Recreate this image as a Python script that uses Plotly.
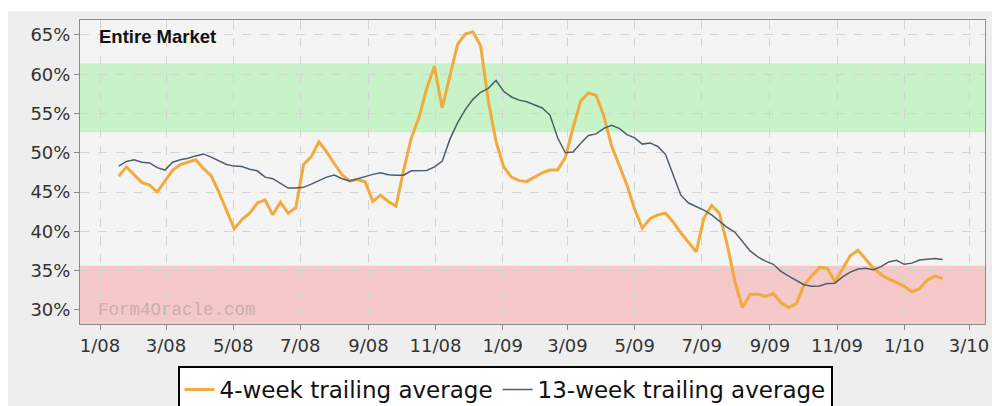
import pandas as pd
import plotly.graph_objects as go

# ---- data ----
START_DATE = "2008-01-18"
trail4 = [47.0, 48.2, 47.2, 46.2, 45.9, 45.0, 46.4, 47.8, 48.5, 48.8,
          49.1, 48.0, 47.1, 45.0, 42.7, 40.3, 41.5, 42.3, 43.6, 44.0,
          42.1, 43.7, 42.3, 43.0, 48.5, 49.5, 51.4, 50.1, 48.6, 47.2,
          46.4, 46.6, 46.3, 43.8, 44.6, 43.8, 43.2, 47.8, 51.9, 54.5,
          58.2, 61.0, 55.7, 59.9, 63.8, 65.1, 65.4, 63.6, 56.6, 51.4,
          48.2, 46.9, 46.45, 46.35, 46.9, 47.45, 47.8, 47.8, 49.4, 53.2,
          56.6, 57.6, 57.3, 54.7, 50.9, 48.3, 45.9, 42.8, 40.4, 41.6,
          42.1, 42.3, 41.2, 39.8, 38.6, 37.4, 41.7, 43.3, 42.3, 38.4,
          33.7, 30.3, 31.95, 32.0, 31.7, 32.1, 30.9, 30.3, 30.8, 33.2,
          34.3, 35.4, 35.3, 33.6, 35.2, 36.9, 37.6, 36.5, 35.3, 34.5,
          33.9, 33.5, 33.0, 32.3, 32.7, 33.8, 34.3, 34.0]
trail13 = [48.3, 48.9, 49.1, 48.8, 48.7, 48.1, 47.8, 48.8, 49.1, 49.3,
           49.6, 49.85, 49.45, 49.0, 48.5, 48.3, 48.25, 47.9, 47.7, 46.9,
           46.7, 46.1, 45.5, 45.5, 45.6, 46.0, 46.5, 46.9, 47.15, 46.7,
           46.4, 46.7, 47.0, 47.25, 47.45, 47.2, 47.15, 47.15, 47.7, 47.7,
           47.75, 48.2, 48.9, 51.7, 53.8, 55.5, 56.8, 57.7, 58.2, 59.2,
           57.8, 57.1, 56.7, 56.5, 56.1, 55.7, 54.8, 51.9, 50.0, 50.1,
           51.2, 52.2, 52.4, 53.1, 53.5, 53.1, 52.3, 51.9, 51.1, 51.25,
           50.8, 49.8, 47.2, 44.6, 43.6, 43.2, 42.7, 42.1, 41.3, 40.5,
           39.9, 38.7, 37.5, 36.75, 36.2, 35.8, 34.9, 34.3, 33.7, 33.2,
           33.0, 33.05, 33.35, 33.4, 34.2, 34.8, 35.2, 35.3, 35.1, 35.5,
           36.1, 36.3, 35.8, 35.95, 36.35, 36.45, 36.55, 36.4]
x_tick_dates = ["2008-01-01", "2008-03-01", "2008-05-01", "2008-07-01",
                "2008-09-01", "2008-11-01", "2009-01-01", "2009-03-01",
                "2009-05-01", "2009-07-01", "2009-09-01", "2009-11-01",
                "2010-01-01", "2010-03-01"]
x_tick_labels = ["1/08", "3/08", "5/08", "7/08", "9/08", "11/08", "1/09",
                 "3/09", "5/09", "7/09", "9/09", "11/09", "1/10", "3/10"]
y_tick_vals = [30, 35, 40, 45, 50, 55, 60, 65]
y_tick_labels = ["30%", "35%", "40%", "45%", "50%", "55%", "60%", "65%"]
green_band = (52.6, 61.4)
red_band_top = 35.6
series_names = ["4-week trailing average", "13-week trailing average"]
title_text = "Entire Market"
watermark_text = "Form4Oracle.com"

dates = pd.date_range(START_DATE, periods=len(trail4), freq="7D")

Y_RANGE = [28.2, 66.9]
X_RANGE = ["2007-12-13 19:00", "2010-03-15 12:00"]

# plot area in page pixels: x 80..985, y 20..324
FIG_W, FIG_H = 992, 406
ML, MR, MT, MB = 80, 7, 20, 82
PW = FIG_W - ML - MR
PH = FIG_H - MT - MB


def px_x(px):
    return (px - ML) / PW


def px_y(py):
    return (FIG_H - MB - py) / PH


fig = go.Figure()
fig.add_trace(go.Scatter(x=dates, y=trail4, mode="lines", name=series_names[0],
                         line=dict(color="#f2aa3c", width=3)))
fig.add_trace(go.Scatter(x=dates, y=trail13, mode="lines", name=series_names[1],
                         line=dict(color="#4b5d6e", width=1.5)))

# bands
fig.add_shape(type="rect", xref="paper", yref="y", x0=0, x1=1,
              y0=green_band[0], y1=green_band[1], fillcolor="#c8f3c8",
              line_width=0, layer="below")
fig.add_shape(type="rect", xref="paper", yref="y", x0=0, x1=1,
              y0=Y_RANGE[0], y1=red_band_top, fillcolor="#f5c8ca",
              line_width=0, layer="below")
# white page strips around the chart panel (top and left)
fig.add_shape(type="rect", xref="paper", yref="paper", x0=px_x(-5), x1=px_x(1000),
              y0=px_y(11), y1=px_y(-5), fillcolor="white", line_width=0,
              layer="below")
fig.add_shape(type="rect", xref="paper", yref="paper", x0=px_x(-5), x1=px_x(8),
              y0=px_y(410), y1=px_y(-5), fillcolor="white", line_width=0,
              layer="below")

fig.add_annotation(text=title_text, xref="paper", yref="paper",
                   x=px_x(97), y=px_y(36), xanchor="left",
                   yanchor="middle", showarrow=False,
                   font=dict(family="Liberation Sans", size=18.5, color="#111111",
                             weight="bold"))
fig.add_annotation(text=watermark_text, xref="paper", yref="paper",
                   x=px_x(96), y=px_y(310), xanchor="left",
                   yanchor="middle", showarrow=False,
                   font=dict(family="Liberation Mono", size=17.5, color="#c9aeb0"))

fig.update_layout(
    width=FIG_W, height=FIG_H,
    margin=dict(l=ML, r=MR, t=MT, b=MB, autoexpand=False),
    paper_bgcolor="#eeeeee",
    plot_bgcolor="#f4f4f4",
    showlegend=True,
    hovermode=False,
    legend=dict(orientation="h", x=px_x(505), xanchor="center",
                yref="container", y=(FIG_H - 366) / FIG_H, yanchor="top",
                bgcolor="white", bordercolor="#000000", borderwidth=2,
                font=dict(family="DejaVu Sans", size=23, color="#111111"),
                itemwidth=30),
    xaxis=dict(type="date", range=X_RANGE, tickvals=x_tick_dates,
               ticktext=x_tick_labels, showgrid=True, gridcolor="#d4d4d4",
               griddash="dash", gridwidth=1, ticks="outside", ticklen=5,
               tickcolor="#888888", showline=True, linecolor="#8c8c8c",
               linewidth=1, mirror=True, zeroline=False, automargin=False,
               tickfont=dict(family="DejaVu Sans", size=18, color="#333333")),
    yaxis=dict(range=Y_RANGE, tickvals=y_tick_vals, ticktext=y_tick_labels,
               showgrid=True, gridcolor="#d4d4d4", griddash="dash",
               gridwidth=1, ticks="outside", ticklen=5, tickcolor="#888888",
               showline=True, linecolor="#8c8c8c", linewidth=1, mirror=True,
               zeroline=False, automargin=False,
               tickfont=dict(family="DejaVu Sans", size=18, color="#333333")),
)

fig.write_html("out.html",
               config={"displayModeBar": False},
               post_script="document.body.style.margin='0';"
                           "document.body.style.overflow='hidden';")
